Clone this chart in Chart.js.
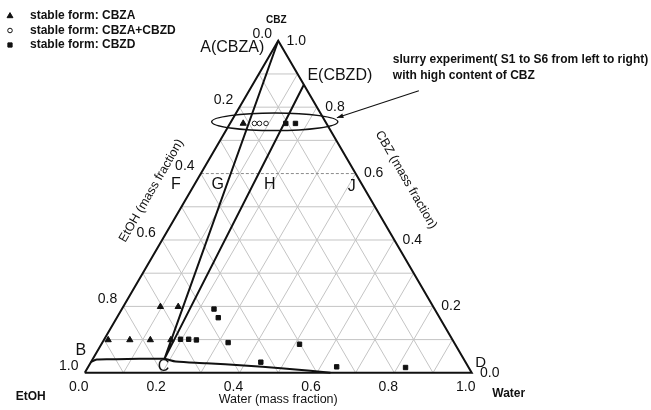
<!DOCTYPE html>
<html>
<head>
<meta charset="utf-8">
<script src="https://cdn.jsdelivr.net/npm/chart.js@4/dist/chart.umd.min.js"></script>
<style>
  html, body { margin: 0; padding: 0; background: #fff; }
  canvas { display: block; }
</style>
</head>
<body>
<canvas id="chart" width="651" height="410"></canvas>
<script>
// Compositions are given as (water, CBZ) mass fractions; EtOH = 1 - water - CBZ.
const cbzaWater = [0.034, 0.096, 0.142, 0.011, 0.067, 0.120, 0.173];
const cbzaCbz   = [0.751, 0.199, 0.199, 0.099, 0.099, 0.099, 0.099];

const mixWater = [0.063, 0.076, 0.093];
const mixCbz   = [0.751, 0.751, 0.751];

const cbzdWater = [0.144, 0.169, 0.238, 0.262, 0.197, 0.218, 0.239, 0.325, 0.512, 0.439, 0.642, 0.821];
const cbzdCbz   = [0.751, 0.751, 0.192, 0.166, 0.101, 0.101, 0.099, 0.091, 0.086, 0.032, 0.018, 0.016];

// Solubility curve B -> C -> towards D
const curveWater = [0.000, 0.011, 0.060, 0.120, 0.185, 0.218, 0.300, 0.400, 0.500, 0.580, 0.635];
const curveCbz   = [0.032, 0.040, 0.041, 0.042, 0.042, 0.034, 0.029, 0.022, 0.014, 0.006, 0.000];

// Tie lines A(CBZA) -> C -> E(CBZD)
const tieWater = [0.000, 0.185, 0.1323];
const tieCbz   = [1.000, 0.042, 0.8677];

// Triangle corners: EtOH, Water, CBZ
const edgeWater = [0, 1, 0, 0];
const edgeCbz   = [0, 0, 1, 0];

// Dashed composition line F-J
const dashLevel = 0.6;

const tickValues = [0, 0.2, 0.4, 0.6, 0.8, 1.0];
const tickLabels = ['0.0', '0.2', '0.4', '0.6', '0.8', '1.0'];

const H = Math.sqrt(3) / 2;
const FONT = '"Liberation Sans", Arial, Helvetica, sans-serif';

function toXY(w, c) { return { x: w + c / 2, y: c * H }; }
function series(ws, cs) { return ws.map((w, i) => toXY(w, cs[i])); }

function pix(chart, w, c) {
  const p = toXY(w, c);
  return [chart.scales.x.getPixelForValue(p.x), chart.scales.y.getPixelForValue(p.y)];
}

function text(ctx, s, x, y, font, align, rot) {
  ctx.save();
  ctx.translate(x, y);
  if (rot) ctx.rotate(rot);
  ctx.font = font;
  ctx.textAlign = align || 'center';
  ctx.textBaseline = 'middle';
  ctx.fillStyle = '#111';
  ctx.fillText(s, 0, 0);
  ctx.restore();
}

const ternaryGrid = {
  id: 'ternaryGrid',
  beforeDatasetsDraw(chart) {
    const ctx = chart.ctx;
    ctx.save();
    ctx.strokeStyle = '#c4c4c4';
    ctx.lineWidth = 1;
    const seg = (a, b) => {
      ctx.beginPath();
      ctx.moveTo(a[0], a[1]);
      ctx.lineTo(b[0], b[1]);
      ctx.stroke();
    };
    for (let k = 1; k < 10; k++) {
      const v = k / 10;
      if (Math.abs(v - dashLevel) > 1e-9) seg(pix(chart, 0, v), pix(chart, 1 - v, v)); // constant CBZ
      seg(pix(chart, v, 0), pix(chart, v, 1 - v));                                   // constant water
      seg(pix(chart, 1 - v, 0), pix(chart, 0, 1 - v));                               // constant EtOH
    }
    // dashed line at CBZ = 0.6
    ctx.strokeStyle = '#8a8a8a';
    ctx.setLineDash([3, 2]);
    seg(pix(chart, 0, dashLevel), pix(chart, 1 - dashLevel, dashLevel));
    ctx.restore();
  }
};

const annotations = {
  id: 'annotations',
  afterDatasetsDraw(chart) {
    const ctx = chart.ctx;
    const xs = chart.scales.x;
    const ys = chart.scales.y;

    // ellipse round the slurry samples
    const ec = pix(chart, 0.113, 0.756);
    const rx = xs.getPixelForValue(0.163) - xs.getPixelForValue(0);
    const ry = ys.getPixelForValue(0) - ys.getPixelForValue(0.0229);
    ctx.save();
    ctx.strokeStyle = '#111';
    ctx.lineWidth = 1.4;
    ctx.beginPath();
    ctx.ellipse(ec[0], ec[1], rx, ry, 0, 0, Math.PI * 2);
    ctx.stroke();

    // arrow pointing at the ellipse
    const tip = [ec[0] + rx - 1, ec[1] - 4];
    const tail = [tip[0] + 82, tip[1] - 27];
    ctx.lineWidth = 1.1;
    ctx.beginPath();
    ctx.moveTo(tail[0], tail[1]);
    ctx.lineTo(tip[0], tip[1]);
    ctx.stroke();
    const ang = Math.atan2(tip[1] - tail[1], tip[0] - tail[0]);
    ctx.fillStyle = '#111';
    ctx.beginPath();
    ctx.moveTo(tip[0], tip[1]);
    ctx.lineTo(tip[0] - 7 * Math.cos(ang - 0.35), tip[1] - 7 * Math.sin(ang - 0.35));
    ctx.lineTo(tip[0] - 7 * Math.cos(ang + 0.35), tip[1] - 7 * Math.sin(ang + 0.35));
    ctx.closePath();
    ctx.fill();
    ctx.restore();

    // tick labels on the three sides
    const num = '14px ' + FONT;
    tickValues.forEach((v, i) => {
      const b = pix(chart, v, 0);
      text(ctx, tickLabels[i], b[0] - 6, b[1] + 14, num);
      const l = pix(chart, 0, 1 - v);          // EtOH fraction along the left side
      text(ctx, tickLabels[i], l[0] - 16, l[1] - 7, num);
      const r = pix(chart, 1 - v, v);          // CBZ fraction along the right side
      text(ctx, tickLabels[i], r[0] + 18, r[1], num);
    });

    // axis titles
    const title = '12.5px ' + FONT;
    const base0 = pix(chart, 0, 0), base1 = pix(chart, 1, 0), apex = pix(chart, 0, 1);
    text(ctx, 'Water (mass fraction)', (base0[0] + base1[0]) / 2, base0[1] + 27, title);
    const lm = pix(chart, 0, 0.5), rm = pix(chart, 0.5, 0.5);
    text(ctx, 'EtOH (mass fraction)', lm[0] - 30, lm[1] - 16, title, 'center', -Math.PI / 3);
    text(ctx, 'CBZ (mass fraction)', rm[0] + 31, rm[1] - 27, title, 'center', Math.PI / 3);

    const small = 'bold 12px ' + FONT;
    text(ctx, 'EtOH', base0[0] - 54, base0[1] + 24, small);
    text(ctx, 'Water', base1[0] + 37, base1[1] + 21, small);
    text(ctx, 'CBZ', apex[0] - 2, apex[1] - 21, 'bold 10px ' + FONT);

    // point labels
    const big = '16px ' + FONT;
    text(ctx, 'A(CBZA)', apex[0] - 46, apex[1] + 7, big);
    const e = pix(chart, tieWater[2], tieCbz[2]);
    text(ctx, 'E(CBZD)', e[0] + 36, e[1] - 9, big);
    const c = pix(chart, tieWater[1], tieCbz[1]);
    text(ctx, 'C', c[0] - 1, c[1] + 8, big);
    const b = pix(chart, curveWater[0], curveCbz[0]);
    text(ctx, 'B', b[0] - 10, b[1] - 12, big);
    text(ctx, 'D', base1[0] + 9, base1[1] - 10, '15px ' + FONT);
    const fl = pix(chart, 0, dashLevel), jr = pix(chart, 1 - dashLevel, dashLevel);
    text(ctx, 'F', fl[0] - 25, fl[1] + 11, big);
    text(ctx, 'G', fl[0] + 17, fl[1] + 11, big);
    text(ctx, 'H', fl[0] + 69, fl[1] + 11, big);
    text(ctx, 'J', jr[0] - 4, jr[1] + 13, big);

    // note next to the arrow
    text(ctx, 'slurry experiment( S1 to S6 from left to right)', tail[0] - 26, tail[1] - 31, small, 'left');
    text(ctx, 'with high content of CBZ', tail[0] - 26, tail[1] - 15, small, 'left');

    // legend
    const legend = [
      ['triangle', 3.4, '#111', 'stable form: CBZA'],
      ['circle', 2.3, '#fff', 'stable form: CBZA+CBZD'],
      ['rect', 3.0, '#111', 'stable form: CBZD']
    ];
    legend.forEach((it, i) => {
      const y = 16 + i * 14.5;
      ctx.save();
      ctx.fillStyle = it[2];
      ctx.strokeStyle = '#111';
      ctx.lineWidth = 1;
      Chart.helpers.drawPoint(ctx, { pointStyle: it[0], radius: it[1], rotation: 0, borderWidth: 1 }, 10, y);
      ctx.restore();
      text(ctx, it[3], 30, y, small, 'left');
    });
  }
};

const lineSet = (data, width, extra) => Object.assign({
  type: 'line', data, borderColor: '#111', borderWidth: width, pointRadius: 0,
  fill: false, tension: 0, showLine: true, clip: false
}, extra || {});

new Chart(document.getElementById('chart'), {
  type: 'scatter',
  data: {
    datasets: [
      lineSet(series(edgeWater, edgeCbz), 2),
      lineSet(series(tieWater, tieCbz), 2),
      lineSet(series(curveWater, curveCbz), 2, { tension: 0.3 }),
      {
        label: 'stable form: CBZA', data: series(cbzaWater, cbzaCbz),
        pointStyle: 'triangle', pointRadius: 3.6, backgroundColor: '#111', borderColor: '#111', borderWidth: 1, clip: false
      },
      {
        label: 'stable form: CBZA+CBZD', data: series(mixWater, mixCbz),
        pointStyle: 'circle', pointRadius: 2.3, backgroundColor: '#fff', borderColor: '#222', borderWidth: 1, clip: false
      },
      {
        label: 'stable form: CBZD', data: series(cbzdWater, cbzdCbz),
        pointStyle: 'rect', pointRadius: 3.1, backgroundColor: '#111', borderColor: '#111', borderWidth: 1, clip: false
      }
    ]
  },
  options: {
    responsive: false,
    animation: false,
    layout: { padding: 0 },
    plugins: { legend: { display: false }, tooltip: { enabled: false } },
    scales: {
      x: { type: 'linear', display: false, min: -81 / 393, max: 570 / 393 },
      y: { type: 'linear', display: false, min: -33 / 393, max: 377 / 393 }
    }
  },
  plugins: [ternaryGrid, annotations]
});
</script>
</body>
</html>
